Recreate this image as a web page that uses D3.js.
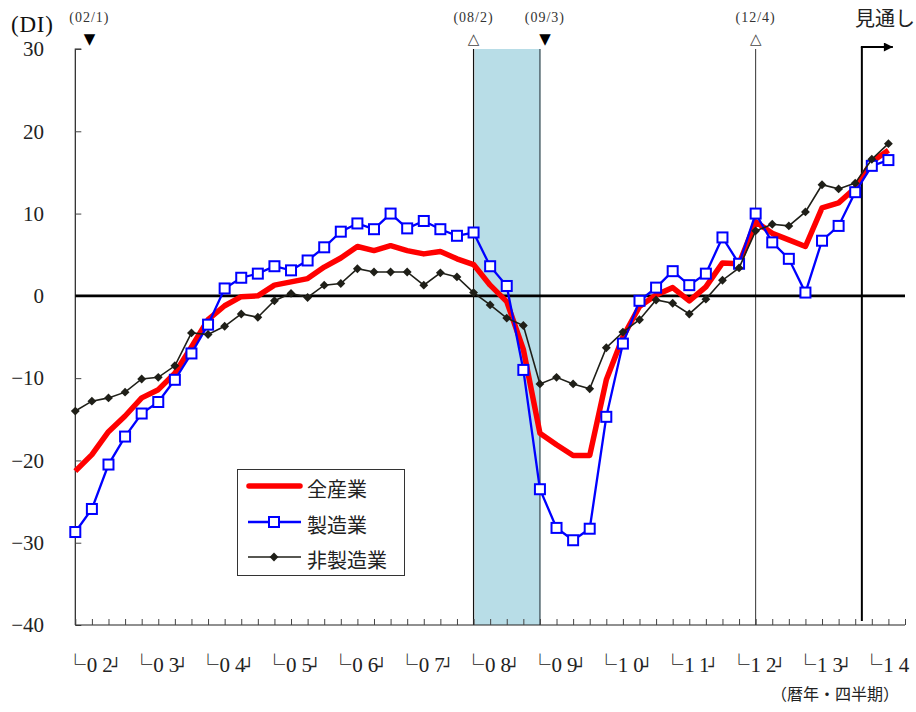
<!DOCTYPE html>
<html><head><meta charset="utf-8">
<script src="https://cdn.jsdelivr.net/npm/d3@7"></script>
<style>html,body{margin:0;padding:0;background:#fff;}svg{display:block;}</style>
</head><body>
<svg id="chart" width="916" height="712"></svg>
<script>
// ---- data (index 0 = first quarter of 2002) ----
const allIndustries = [-21.3,-19.3,-16.5,-14.6,-12.4,-11.4,-9.4,-6.2,-2.9,-1.2,
  -0.1,0.0,1.3,1.7,2.1,3.5,4.6,6.0,5.5,6.1,
  5.5,5.1,5.4,4.5,3.8,1.3,-0.7,-6.5,-16.7,-18.1,
  -19.4,-19.4,-10.2,-5.0,-1.3,0.1,1.0,-0.6,1.1,4.0,
  3.9,9.0,7.6,6.8,6.0,10.7,11.3,13.1,16.3,17.7];
const manufacturing = [-28.7,-25.9,-20.5,-17.1,-14.3,-12.9,-10.2,-7.0,-3.5,0.9,
  2.2,2.7,3.6,3.1,4.3,5.9,7.8,8.8,8.1,10.0,
  8.2,9.1,8.1,7.3,7.7,3.6,1.2,-9.0,-23.5,-28.2,
  -29.7,-28.3,-14.7,-5.8,-0.6,1.0,3.0,1.3,2.7,7.1,
  3.9,10.0,6.5,4.5,0.4,6.7,8.5,12.6,15.8,16.5];
const nonManufacturing = [-14.0,-12.8,-12.4,-11.7,-10.1,-9.9,-8.5,-4.5,-4.7,-3.7,
  -2.2,-2.6,-0.6,0.3,-0.2,1.3,1.5,3.3,2.9,2.9,
  2.9,1.3,2.8,2.3,0.4,-1.1,-2.7,-3.6,-10.7,-9.9,
  -10.7,-11.3,-6.3,-4.4,-2.9,-0.5,-0.9,-2.2,-0.4,1.9,
  3.4,7.9,8.7,8.5,10.2,13.5,13.0,13.7,16.6,18.5];
const yearLabels = ["02","03","04","05","06","07","08","09","10","11","12","13","14"];
const yTickValues = [30,20,10,0,-10,-20,-30,-40];
const seriesNames = ["全産業","製造業","非製造業"];
const turningPoints = [
  {label:"(02/1)", mark:"▼", pos:0.85},
  {label:"(08/2)", mark:"△", pos:24},
  {label:"(09/3)", mark:"▼", pos:28.3},
  {label:"(12/4)", mark:"△", pos:41}
];
const recession = {start:24, end:28};
const peakLine = 41;
const forecastStart = 47.4;
const quarterCount = 50;

// ---- layout ----
const svg = d3.select("#chart");
const L = 75.3, R = 905, T = 49, B = 625;
const x = d3.scaleLinear().domain([0, quarterCount]).range([L, R]);
const y = d3.scaleLinear().domain([-40, 30]).range([B, T]);
const serif = "'Liberation Serif','DejaVu Serif',serif";
const jp = "'Noto Sans CJK JP','Noto Sans',sans-serif";

// recession shading
svg.append("rect").attr("x", x(recession.start)+1).attr("y", T)
  .attr("width", x(recession.end)-x(recession.start)-1).attr("height", B-T)
  .attr("fill", "#b8dde7");
svg.append("line").attr("x1", x(recession.start)).attr("x2", x(recession.start))
  .attr("y1", T).attr("y2", B).attr("stroke", "#111").attr("stroke-width", 1.2);
svg.append("line").attr("x1", x(recession.end)).attr("x2", x(recession.end))
  .attr("y1", T).attr("y2", B).attr("stroke", "#52666e").attr("stroke-width", 1.5);
svg.append("line").attr("x1", x(peakLine)).attr("x2", x(peakLine))
  .attr("y1", T).attr("y2", B).attr("stroke", "#333").attr("stroke-width", 1);

// y axis
const yAxis = d3.axisRight(y).tickValues(yTickValues).tickSize(6).tickFormat("");
const gy = svg.append("g").attr("transform", `translate(${L},0)`).call(yAxis);
gy.select(".domain").attr("stroke", "#222").attr("stroke-width", 1.2).attr("d", `M6,${T}H0V${B}`);
gy.selectAll(".tick line").attr("stroke", "#444");
svg.append("g").selectAll("text").data(yTickValues).join("text")
  .attr("x", 44).attr("y", d => y(d)).attr("dy", "0.35em")
  .attr("text-anchor", "end").attr("font-family", serif).attr("font-size", 21)
  .attr("fill", "#222").text(d => d3.format("")(d).replace("-", "−"));

// x axis
const xAxis = d3.axisTop(x).tickValues(d3.range(0, quarterCount+1)).tickSize(6).tickFormat("");
const gx = svg.append("g").attr("transform", `translate(0,${B})`).call(xAxis);
gx.select(".domain").attr("stroke", "#222").attr("stroke-width", 1.2).attr("d", `M${L},0H${R}`);
gx.selectAll(".tick line").attr("stroke", "#444");

// zero line
svg.append("line").attr("x1", L).attr("x2", R).attr("y1", y(0)).attr("y2", y(0))
  .attr("stroke", "#000").attr("stroke-width", 2.6);

// year labels
const mono = "'DejaVu Sans Mono',monospace";
const yl = svg.append("g").selectAll("text").data(yearLabels).join("text")
  .attr("x", (d, i) => x(i*4) - 10.5).attr("y", 672).attr("fill", "#222");
yl.append("tspan").attr("font-family", jp).attr("font-size", 21).text("└");
yl.append("tspan").attr("font-family", serif).attr("font-size", 21).attr("dx", 1).text(d => d[0]);
yl.append("tspan").attr("font-family", serif).attr("font-size", 21).attr("dx", 5).text(d => d[1]);
yl.filter((d, i) => i < yearLabels.length - 1)
  .append("tspan").attr("font-family", mono).attr("font-size", 16).attr("dx", -1).text("┘");
svg.append("text").attr("x", 899).attr("y", 700).attr("text-anchor", "end")
  .attr("font-family", jp).attr("font-size", 16).attr("fill", "#222").text("（暦年・四半期）");

// unit label
svg.append("text").attr("x", 11).attr("y", 32).attr("font-family", serif)
  .attr("font-size", 23).attr("letter-spacing", 0.8).attr("fill", "#111").text("(DI)");

// turning point annotations
const ann = svg.append("g");
ann.selectAll("text.lab").data(turningPoints).join("text").attr("class", "lab")
  .attr("x", d => x(d.pos)).attr("y", 22).attr("text-anchor", "middle")
  .attr("font-family", serif).attr("font-size", 14).attr("letter-spacing", 1).attr("fill", "#333").text(d => d.label);
ann.selectAll("text.mk").data(turningPoints).join("text").attr("class", "mk")
  .attr("x", d => x(d.pos)).attr("y", 44).attr("text-anchor", "middle")
  .attr("font-family", "'DejaVu Sans',sans-serif").attr("font-size", 15)
  .attr("fill", d => d.mark === "▼" ? "#000" : "#444").text(d => d.mark);

// forecast arrow
svg.append("defs").append("marker").attr("id", "arrow").attr("viewBox", "0 0 10 10")
  .attr("refX", 10).attr("refY", 5).attr("markerWidth", 5).attr("markerHeight", 4.5)
  .attr("orient", "auto").attr("markerUnits", "strokeWidth")
  .append("path").attr("d", "M0,0L10,5L0,10Z").attr("fill", "#000");
svg.append("line").attr("x1", x(forecastStart)).attr("x2", x(forecastStart))
  .attr("y1", 47).attr("y2", 621).attr("stroke", "#000").attr("stroke-width", 2);
svg.append("line").attr("x1", x(forecastStart)-1).attr("x2", x(forecastStart)+31)
  .attr("y1", 47).attr("y2", 47).attr("stroke", "#000").attr("stroke-width", 2)
  .attr("marker-end", "url(#arrow)");
svg.append("text").attr("x", 855).attr("y", 26).attr("font-family", jp)
  .attr("font-size", 20).attr("fill", "#222").text("見通し");

// series
const line = d3.line().x((d, i) => x(i)).y(d => y(d));
svg.append("path").datum(allIndustries).attr("d", line).attr("fill", "none")
  .attr("stroke", "#ff0000").attr("stroke-width", 5.5).attr("stroke-linejoin", "round");
svg.append("path").datum(manufacturing).attr("d", line).attr("fill", "none")
  .attr("stroke", "#0000ff").attr("stroke-width", 2.3);
svg.append("g").selectAll("rect").data(manufacturing).join("rect")
  .attr("x", (d, i) => x(i)-5).attr("y", d => y(d)-5).attr("width", 10).attr("height", 10)
  .attr("fill", "#fff").attr("stroke", "#0000ff").attr("stroke-width", 2);
svg.append("path").datum(nonManufacturing).attr("d", line).attr("fill", "none")
  .attr("stroke", "#1f1f18").attr("stroke-width", 1.6);
const diamond = d3.symbol().type(d3.symbolDiamond2).size(50);
svg.append("g").selectAll("path").data(nonManufacturing).join("path")
  .attr("d", diamond).attr("transform", (d, i) => `translate(${x(i)},${y(d)})`)
  .attr("fill", "#1f1f18");

// legend
const lg = svg.append("g");
lg.append("rect").attr("x", 237.5).attr("y", 469.5).attr("width", 167).attr("height", 106)
  .attr("fill", "#fff").attr("stroke", "#333").attr("stroke-width", 1);
const ly = [486, 522, 557];
lg.append("line").attr("x1", 249).attr("x2", 300).attr("y1", ly[0]).attr("y2", ly[0])
  .attr("stroke", "#ff0000").attr("stroke-width", 5.5).attr("stroke-linecap", "round");
lg.append("line").attr("x1", 248).attr("x2", 301).attr("y1", ly[1]).attr("y2", ly[1])
  .attr("stroke", "#0000ff").attr("stroke-width", 2.3);
lg.append("rect").attr("x", 269).attr("y", ly[1]-5).attr("width", 10).attr("height", 10)
  .attr("fill", "#fff").attr("stroke", "#0000ff").attr("stroke-width", 2);
lg.append("line").attr("x1", 248).attr("x2", 301).attr("y1", ly[2]).attr("y2", ly[2])
  .attr("stroke", "#1f1f18").attr("stroke-width", 1.6);
lg.append("path").attr("d", diamond).attr("transform", `translate(274,${ly[2]})`).attr("fill", "#1f1f18");
lg.selectAll("text").data(seriesNames).join("text")
  .attr("x", 307).attr("y", (d, i) => ly[i] + 4).attr("dy", "0.35em")
  .attr("font-family", jp).attr("font-size", 20).attr("fill", "#222").text(d => d);
</script>
</body></html>
